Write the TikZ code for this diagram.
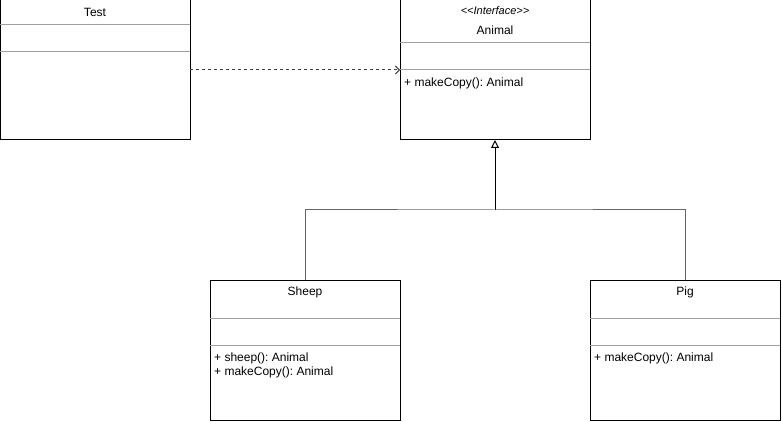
\documentclass[tikz,border=0pt]{standalone}
\usepackage{fontspec}
\setmainfont{Liberation Sans}
\usetikzlibrary{arrows.meta}
\definecolor{divgray}{HTML}{A0A0A0}
\frenchspacing
\begin{document}
\begin{tikzpicture}[x=1pt,y=-1pt,
  classbox/.style={draw=black,line width=1pt,fill=white,minimum width=190pt,minimum height=140pt,inner sep=0pt,outer sep=0pt},
  divider/.style={draw=divgray,line width=1pt},
  title/.style={font=\fontsize{12}{14}\selectfont,inner sep=0pt,anchor=center},
  member/.style={font=\fontsize{12}{14}\selectfont,inner sep=0pt,anchor=west},
  link/.style={line width=1pt,draw=black!75}
]
\useasboundingbox (0,0) rectangle (782,422);

% Test
\node[classbox] (test) at (95,70) {};
\node[title] (testname) at (95,12) {Test};
\draw[divider] (0,24.5) -- (190,24.5);
\draw[divider] (0,51.5) -- (190,51.5);

% Animal interface
\node[classbox] (animal) at (495,70) {};
\node[title] (animalst) at (495,11) {\fontsize{11}{13}\selectfont\itshape {<}{<}Interface{>}{>}};
\node[title] (animalname) at (495,30) {Animal};
\draw[divider] (400,42.5) -- (590,42.5);
\draw[divider] (400,69.5) -- (590,69.5);
\node[member] (animalm1) at (404,83.5) {+ makeCopy(): Animal};

% Sheep
\node[classbox] (sheep) at (305,350) {};
\node[title] (sheepname) at (305,292) {Sheep};
\draw[divider] (210,318.5) -- (400,318.5);
\draw[divider] (210,345.5) -- (400,345.5);
\node[member] (sheepm1) at (214,358.5) {+ sheep(): Animal};
\node[member] (sheepm2) at (214,372.5) {+ makeCopy(): Animal};

% Pig
\node[classbox] (pig) at (685,350) {};
\node[title] (pigname) at (685,292) {Pig};
\draw[divider] (590,318.5) -- (780,318.5);
\draw[divider] (590,345.5) -- (780,345.5);
\node[member] (pigm1) at (594,358.5) {+ makeCopy(): Animal};

% Dependency
\draw[link,dash pattern=on 3pt off 3pt,-{Straight Barb[length=4pt,width=8pt,line width=1pt]}] (test.east) -- (animal.west);

% Realization
\coordinate (junction) at (495,210);
\draw[link,draw=black,-{Triangle[open,length=8pt,width=8pt,line width=1pt]}] (junction) -- (animal.south);
\draw[link,draw=black!60] (sheep.north) |- (junction) -| (pig.north);
\end{tikzpicture}
\end{document}
